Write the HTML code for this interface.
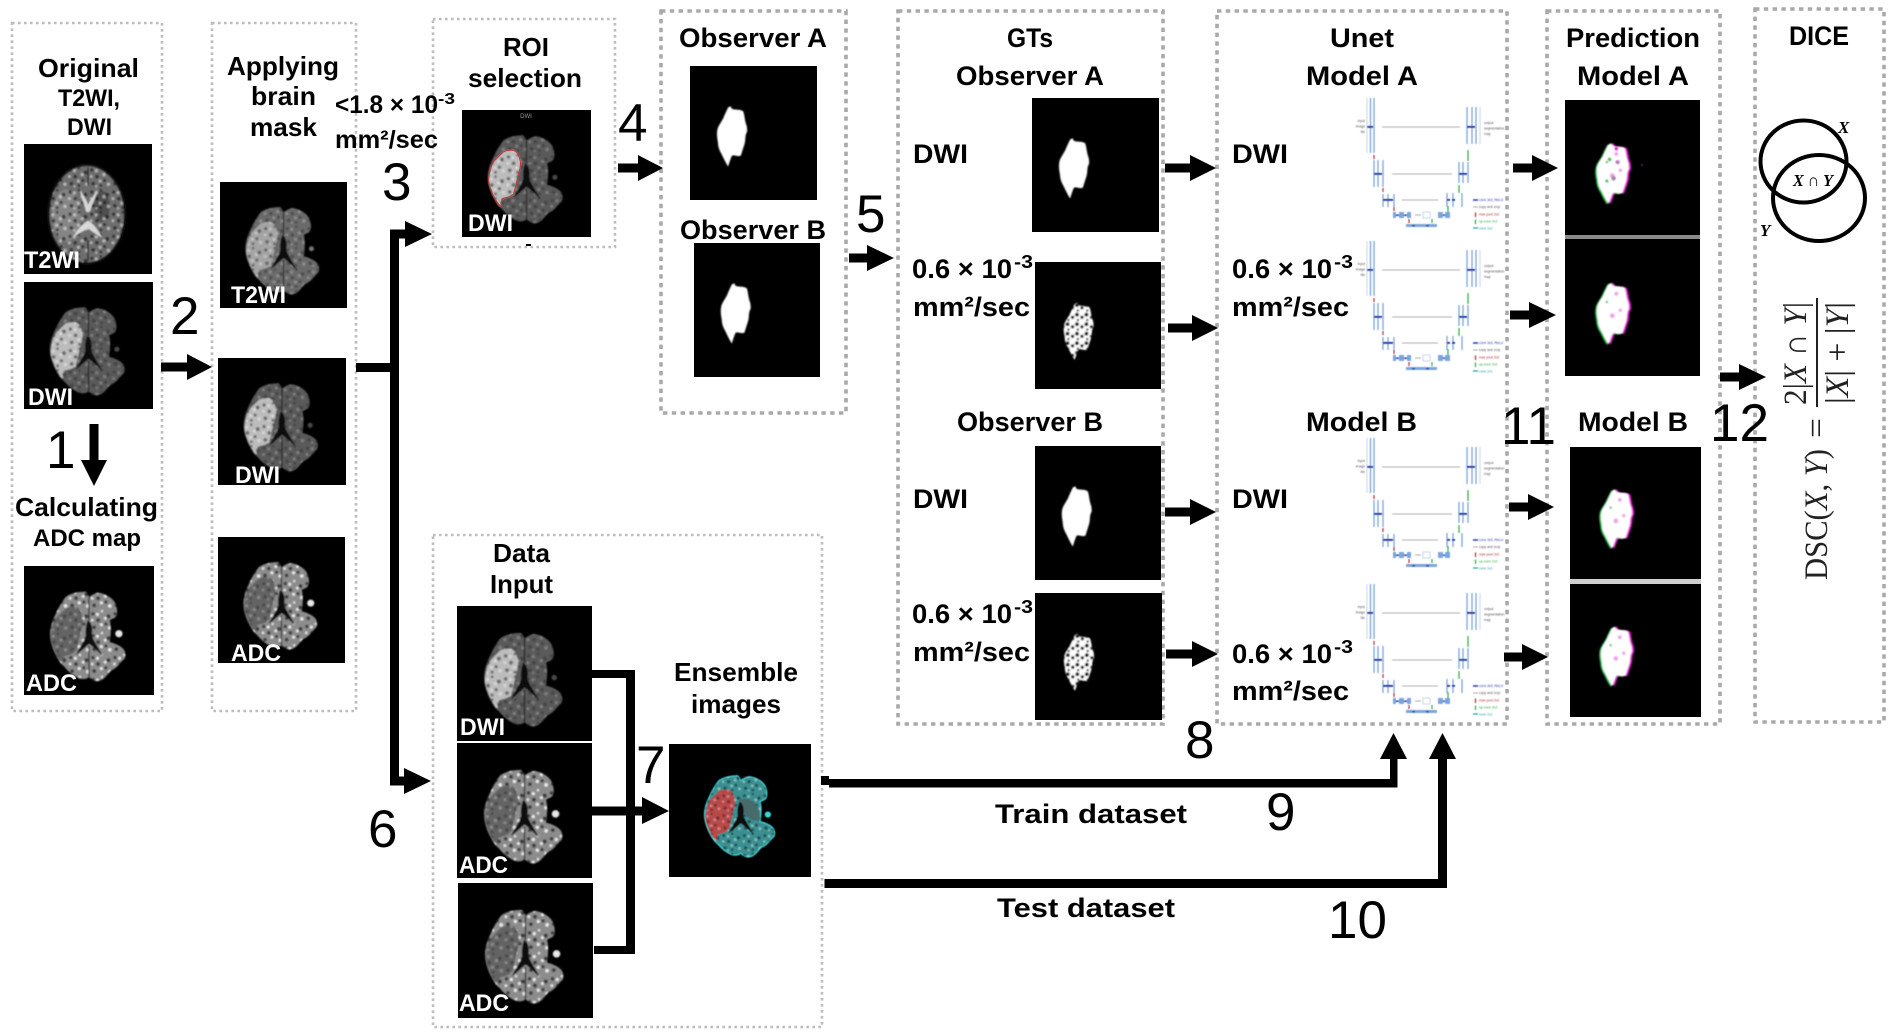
<!DOCTYPE html>
<html lang="en"><head><meta charset="utf-8"><title>Ensemble segmentation workflow</title>
<style>
html,body{margin:0;padding:0;background:#fff}
svg{display:block}
.s{font-family:"Liberation Sans",sans-serif;font-weight:bold;fill:#000}
.w{font-family:"Liberation Sans",sans-serif;font-weight:bold;fill:#fff;font-size:24px}
.n{font-family:"Liberation Sans",sans-serif;font-size:53px;fill:#000}
.c{font-family:"Liberation Sans",sans-serif;font-weight:bold;font-size:27px;fill:#000}
.f{font-family:"Liberation Serif",serif;font-size:33px;fill:#222}
.v{font-family:"Liberation Serif",serif;font-style:italic;font-weight:bold;font-size:17px;fill:#000}
.d1{fill:none;stroke:#bdbdbd;stroke-width:2.6;stroke-dasharray:2.6 3.4}
.d2{fill:none;stroke:#a9a9a9;stroke-width:3.6;stroke-dasharray:4.4 4.4}
</style></head>
<body>
<svg width="1889" height="1034" viewBox="0 0 1889 1034" xmlns="http://www.w3.org/2000/svg">
<defs>
<pattern id="spots" width="17" height="17" patternUnits="userSpaceOnUse">
<g fill="#000" fill-opacity=".55"><circle cx="2" cy="3" r="1.300"/><circle cx="9" cy="1.500" r="1"/><circle cx="14" cy="5" r="1.500"/><circle cx="6" cy="8" r="1.400"/><circle cx="12" cy="11" r="1.200"/><circle cx="3" cy="13.500" r="1.400"/><circle cx="9" cy="15" r="1.100"/></g>
<g fill="#fff" fill-opacity=".5"><circle cx="5.500" cy="3.500" r="1.200"/><circle cx="11.500" cy="6.500" r="1.300"/><circle cx="1.500" cy="8" r="1.100"/><circle cx="8.500" cy="11.500" r="1.200"/><circle cx="15" cy="14" r="1.300"/><circle cx="5.500" cy="15.500" r=".9"/></g>
</pattern>
<pattern id="spotsB" width="17" height="17" patternUnits="userSpaceOnUse">
<g fill="#000" fill-opacity=".6"><circle cx="2" cy="3" r="1.300"/><circle cx="14" cy="5" r="1.500"/><circle cx="6" cy="8" r="1.400"/><circle cx="12" cy="11" r="1.200"/><circle cx="3" cy="13.500" r="1.400"/></g>
<g fill="#fff" fill-opacity=".85"><circle cx="5.500" cy="3.500" r="1.200"/><circle cx="11.500" cy="6.500" r="1.100"/><circle cx="1.500" cy="8" r="1"/><circle cx="8.500" cy="11.500" r="1.200"/><circle cx="15" cy="14" r="1.300"/><circle cx="9" cy="1" r=".9"/></g>
</pattern>
<pattern id="holes" width="7.500" height="7.500" patternUnits="userSpaceOnUse">
<circle cx="1.800" cy="2" r="1.500" fill="#000"/><circle cx="5.800" cy="4" r="1.300" fill="#000"/><circle cx="2.500" cy="6.200" r=".9" fill="#000"/>
</pattern>
<filter id="bl" x="-20%" y="-20%" width="140%" height="140%"><feGaussianBlur stdDeviation=".55"/></filter>
<filter id="bu" x="-5%" y="-5%" width="110%" height="110%"><feGaussianBlur stdDeviation=".4"/></filter>
<path id="brain" d="M46 20C48 19 49 22 50 24C53 22 56 20 59 21C64 22 70 26 71 31C72 35 72 38 70 40L66 42C67 46 67 52 66 59C70 60 75 62 77 65C79 69 78 72 76 73C73 77 70 80 67 81C64 84 62 88 58 89C55 90 52 88 50 86C48 88 45 88 42 87C38 85 34 82 31 78C27 75 25 70 23 66C21 61 20 57 20 53C20 47 22 42 24 38C26 33 29 28 32 24C36 21 42 20 46 20Z"/>
<path id="les" d="M32 33C36 31 41 31 43 34C45 38 46 42 45 46C43 52 42 60 40 66C37 69 33 69 31 70L30 76C27 73 24 68 23 64C21 60 20 56 21 52C22 46 23 42 26 39C28 37 30 35 32 33Z"/>
<path id="ven" d="M49 42C51 43 52.500 46 52.500 50C52.500 52 52 53 52.500 55C55 60 58 65 61 70C57 67 54 63 50 60.500C47 63 44 66 40 69C42 64 46 59 47.500 54.500C47 50 47.500 46 49 42Z"/>
<path id="mid" d="M50 24V42M50 62V86" stroke="#151515" stroke-width=".9" fill="none"/>
<path id="blob" d="M30 31L32 30L33 32C36 33 40 32 42 34C43 37 43 40 44 43C45 45 45 47 45 49C43 52 44 55 43 58C42 61 41 64 40 67C37 68 35 66 33 67C32 69 31 72 30 75C28 72 26 68 25 66C23 63 22 60 22 57C21 52 21 49 22 46C24 42 26 40 27 37C28 35 29 33 30 31Z"/>
<g id="dwi"><rect width="100" height="100" fill="#000"/><g filter="url(#bl)"><use href="#brain" fill="#5a5a5a"/><use href="#brain" fill="url(#spots)" opacity=".45"/><circle cx="72" cy="53" r="2" fill="#4a4a4a"/><use href="#les" fill="#bcbcbc"/><use href="#les" fill="url(#spots)" opacity=".8"/><use href="#mid"/><use href="#ven" fill="#080808"/></g></g>
<g id="t2m"><rect width="100" height="100" fill="#000"/><g filter="url(#bl)"><use href="#brain" fill="#6a6a6a"/><use href="#brain" fill="url(#spots)" opacity=".5"/><circle cx="72" cy="53" r="2" fill="#777"/><use href="#les" fill="#a4a4a4"/><use href="#les" fill="url(#spots)" opacity=".7"/><use href="#mid"/><use href="#ven" fill="#080808"/></g></g>
<g id="adc"><rect width="100" height="100" fill="#000"/><g filter="url(#bl)"><use href="#brain" fill="#8c8c8c"/><use href="#brain" fill="url(#spotsB)"/><circle cx="73" cy="52.500" r="2.800" fill="#e8e8e8"/><use href="#les" fill="#646464"/><use href="#les" fill="url(#spots)" opacity=".5"/><use href="#mid"/><use href="#ven" fill="#080808"/></g></g>
<g id="t2o"><rect width="100" height="100" fill="#000"/><g filter="url(#bl)"><ellipse cx="49" cy="54" rx="31" ry="39" fill="#111"/><ellipse cx="49" cy="54" rx="29" ry="37" fill="#6e6e6e"/><ellipse cx="33" cy="55" rx="11" ry="20" fill="#858585"/><ellipse cx="61" cy="48" rx="6" ry="12" fill="#505050"/><ellipse cx="49" cy="54" rx="29" ry="37" fill="url(#spots)"/>
<path d="M44 35C46 40 49 42 50 47C52 42 55 40 57 35C57 41 53 45 52 51C51 53 48 53 48 50C47 45 44 41 44 35ZM50 59C54 61 58 66 61 72C57 70 53 67 50 65C46 67 43 69 39 71C41 66 46 61 50 59Z" fill="#d8d8d8"/><path d="M50 18V32M50 74V90" stroke="#1a1a1a" stroke-width="1"/></g></g>
<g id="roi"><use href="#dwi"/><use href="#les" fill="none" stroke="#c23a3a" stroke-width=".8"/></g>
<g id="ens"><rect width="100" height="100" fill="#000"/><g transform="translate(8 6.400) scale(.85 .88)" filter="url(#bl)"><use href="#brain" fill="#3a8f90" stroke="#3fcdd0" stroke-width="1.100"/><use href="#brain" fill="url(#spots)" opacity=".75"/><path d="M49 40C58 38 66 42 66 58C60 60 56 56 50 50Z" fill="#4a6a6a"/><use href="#les" fill="#b84a4a"/><use href="#les" fill="url(#spots)" opacity=".6"/><use href="#ven" fill="#0a0a0a"/><circle cx="72.500" cy="53" r="2.600" fill="#38d8d8"/></g></g>
<g id="mask"><rect width="100" height="100" fill="#000"/><use href="#blob" fill="#fff" filter="url(#bl)"/></g>
<g id="gts"><rect width="100" height="100" fill="#000"/><g filter="url(#bl)" transform="translate(1.500 2)"><use href="#blob" fill="#fff"/><use href="#blob" fill="url(#holes)"/></g></g>
<g id="pred"><rect width="100" height="100" fill="#000"/><g filter="url(#bl)"><use href="#blob" x="4" y="2" fill="#e020d0"/><use href="#blob" x="1" y="2.500" fill="#22b84c"/><use href="#blob" x="2.300" y="2" fill="#fff"/><circle cx="31" cy="46" r=".9" fill="#22b84c"/><circle cx="38" cy="40" r="1.500" fill="#f0a0e8"/><circle cx="35" cy="56" r="1.800" fill="#f0a0e8"/><circle cx="41" cy="52" r="1.300" fill="#f0a0e8"/></g></g>
<g id="pred1"><use href="#pred"/><g filter="url(#bl)"><circle cx="33" cy="44" r="1.300" fill="#50b868"/><circle cx="39" cy="46" r="1.500" fill="#c070b8"/><circle cx="36" cy="58" r="1.600" fill="#a080a0"/><circle cx="31" cy="60" r="1.100" fill="#50b868"/><circle cx="38" cy="36" r="1.300" fill="#e020d0"/><circle cx="57" cy="48" r=".7" fill="#a01098"/></g></g>
<g id="unet" filter="url(#bu)">
<g fill="none" stroke="#6f9fd8" stroke-width="1.200">
<path d="M40.500-2V53M44-2V53M137 7V44M142 7V44M146 7V44M44 60V87M48 60V87M53 60V87M129 62V83M133 62V83M138 62V83M53 94V107M58 94V107M64 94V107M117 93V107M123 93V107M132 93V107"/></g>
<path d="M37-2V53M150 7V44" stroke="#cfdcec" stroke-width="1.200"/>
<g fill="#7aa5dc"><rect x="63" y="112" width="3" height="6"/><rect x="69" y="112" width="5" height="6"/><rect x="77" y="112" width="4" height="6"/><rect x="108" y="112" width="5" height="6"/><rect x="115" y="112" width="5" height="6"/><rect x="76" y="124" width="31" height="3"/></g>
<rect x="93" y="112" width="7" height="6" fill="#fff" stroke="#9ab9df" stroke-width=".6"/>
<g stroke="#aeaeae" stroke-width="1.100"><path d="M52 27H130M62 74H122M72 100H108M85 115H91"/></g>
<g fill="#1c2f9c"><rect x="37" y="26" width="6" height="1.800"/><rect x="137" y="26" width="8" height="1.800"/><rect x="44" y="73" width="8" height="1.800"/><rect x="129" y="73" width="8" height="1.800"/><rect x="53" y="99" width="10" height="1.800"/><rect x="117" y="99" width="3" height="1.800"/><rect x="122" y="99" width="3" height="1.800"/><rect x="66" y="114.500" width="3" height="1.400"/><rect x="74" y="114.500" width="3" height="1.400"/><rect x="113" y="114.500" width="2" height="1.400"/><rect x="82" y="125" width="3" height="1.400"/><rect x="96" y="125" width="3" height="1.400"/></g>
<g stroke="#2fa83f" stroke-width="1.200"><path d="M138 50V61M129 85V93M118 106V112M102 119V123"/></g>
<g stroke="#b02a2a" stroke-width="1.200"><path d="M44 55V59M53 88V92M64 107V111M79 119V123"/></g>
<g font-family="Liberation Sans,sans-serif" font-size="3.400" fill="#555"><text x="35" y="22" text-anchor="end">input</text><text x="35" y="27.500" text-anchor="end">image</text><text x="35" y="33" text-anchor="end">tile</text><text x="154" y="24">output</text><text x="154" y="29.500">segmentation</text><text x="154" y="35">map</text>
<text x="149" y="101" fill="#2a3aa8">conv 3x3, ReLU</text><text x="149" y="108">copy and crop</text><text x="149" y="115.500" fill="#b02a2a">max pool 2x2</text><text x="149" y="122.500" fill="#2fa83f">up-conv 2x2</text><text x="149" y="129.500" fill="#1f9a9a">conv 1x1</text></g>
<path d="M143 100H148" stroke="#1c2f9c" stroke-width="1.400"/><path d="M143 107H148" stroke="#aaa"/><path d="M145.500 112.500V117" stroke="#b02a2a" stroke-width="1.200"/><path d="M145.500 119.500V124" stroke="#2fa83f" stroke-width="1.200"/><path d="M143 128H148" stroke="#1f9a9a" stroke-width="1.200"/>
</g>
</defs>

<rect width="1889" height="1034" fill="#fff"/>

<!-- dotted panels -->
<rect class="d1" x="12" y="23" width="150" height="688"/>
<rect class="d1" x="212" y="23" width="144" height="688"/>
<rect class="d1" x="433" y="19" width="182" height="228"/>
<rect class="d1" x="433" y="535" width="389" height="492"/>
<rect class="d2" x="661" y="11" width="185" height="402"/>
<rect class="d2" x="898" y="11" width="265" height="713"/>
<rect class="d2" x="1217" y="11" width="290" height="713"/>
<rect class="d2" x="1547" y="11" width="173" height="713"/>
<rect class="d2" x="1755" y="9" width="129" height="713"/>
<rect x="526" y="244" width="5" height="2" fill="#000"/>

<!-- images -->
<use href="#t2o" transform="translate(24 144) scale(1.280 1.300)"/>
<use href="#dwi" transform="translate(24 282) scale(1.290 1.270)"/>
<use href="#adc" transform="translate(24 566) scale(1.300 1.290)"/>
<use href="#t2m" transform="translate(220 182) scale(1.270 1.260)"/>
<use href="#dwi" transform="translate(218 358) scale(1.280 1.270)"/>
<use href="#adc" transform="translate(218 537) scale(1.270 1.260)"/>
<use href="#roi" transform="translate(462 110) scale(1.290 1.270)"/>
<use href="#dwi" transform="translate(457 606) scale(1.350 1.350)"/>
<use href="#adc" transform="translate(457 743) scale(1.350 1.350)"/>
<use href="#adc" transform="translate(458 883) scale(1.350 1.350)"/>
<use href="#ens" transform="translate(669 744) scale(1.420 1.330)"/>
<use href="#mask" transform="translate(690 66) scale(1.270 1.340)"/>
<use href="#mask" transform="translate(694 243) scale(1.260 1.340)"/>
<use href="#mask" transform="translate(1032 98) scale(1.270 1.340)"/>
<use href="#gts" transform="translate(1035 262) scale(1.260 1.270)"/>
<use href="#mask" transform="translate(1035 446) scale(1.260 1.340)"/>
<use href="#gts" transform="translate(1035 593) scale(1.270 1.270)"/>
<rect x="1565" y="235" width="135" height="4" fill="#8a8a8a"/>
<rect x="1570" y="579" width="131" height="5" fill="#cfcfcf"/>
<use href="#pred1" transform="translate(1565 100) scale(1.350 1.350)"/>
<use href="#pred" transform="translate(1565 239) scale(1.350 1.370)"/>
<use href="#pred" transform="translate(1570 447) scale(1.310 1.320)"/>
<use href="#pred" transform="translate(1570 584) scale(1.310 1.330)"/>

<!-- U-nets -->
<use href="#unet" transform="translate(1330 100)"/>
<use href="#unet" transform="translate(1330 243)"/>
<use href="#unet" transform="translate(1330 440)"/>
<use href="#unet" transform="translate(1330 586)"/>

<!-- connectors -->
<g fill="#000">
<path d="M89.500 424H98.500V460H107L94 486L81 460H89.500Z"/>
<path d="M161 362.500H187V354L212 367L187 380V371.500H161Z"/>
<rect x="356" y="363" width="38" height="9"/>
<rect x="390" y="230" width="9" height="555"/>
<path d="M390 229.500H405V221L432 234L405 247V238.500H390Z"/>
<path d="M390 776.500H404V768L431 781L404 794V785.500H390Z"/>
<path d="M618 163.500H638V155L663 168L638 181V172.500H618Z"/>
<path d="M849 253.500H867V245L894 258L867 271V262.500H849Z"/>
<path d="M1165 163.500H1190V155L1216 168L1190 181V172.500H1165Z"/>
<path d="M1168 323.500H1192V315L1218 328L1192 341V332.500H1168Z"/>
<path d="M1165 507.500H1190V499L1216 512L1190 525V516.500H1165Z"/>
<path d="M1166 649.500H1192V641L1218 654L1192 667V658.500H1166Z"/>
<path d="M1513 163.500H1532V155L1558 168L1532 181V172.500H1513Z"/>
<path d="M1510 310.500H1529V302L1556 315L1529 328V319.500H1510Z"/>
<path d="M1509 502.500H1528V494L1554 507L1528 520V511.500H1509Z"/>
<path d="M1504 652.500H1522V644L1548 657L1522 670V661.500H1504Z"/>
<path d="M1720 372.500H1739V364L1766 377L1739 390V381.500H1720Z"/>
<path d="M592 670H635V954H594V946H626V678H592Z"/>
<path d="M592 806.500H642V797L669 811L642 824V815.500H592Z"/>
<rect x="821" y="776" width="8" height="9"/>
<path d="M829 779H1390V759H1380L1393.500 733L1407 759H1397.500V787.500H829Z"/>
<path d="M824.500 879H1438V759H1429L1442.500 733L1456 759H1447V888H824.500Z"/>
</g>

<!-- white image labels -->
<text class="w" x="24" y="268" textLength="56" lengthAdjust="spacingAndGlyphs">T2WI</text>
<text class="w" x="28" y="405" textLength="45" lengthAdjust="spacingAndGlyphs">DWI</text>
<text class="w" x="26" y="691" textLength="51" lengthAdjust="spacingAndGlyphs">ADC</text>
<text class="w" x="231" y="303" textLength="55" lengthAdjust="spacingAndGlyphs">T2WI</text>
<text class="w" x="235" y="483" textLength="45" lengthAdjust="spacingAndGlyphs">DWI</text>
<text class="w" x="231" y="661" textLength="50" lengthAdjust="spacingAndGlyphs">ADC</text>
<text class="w" x="468" y="231" textLength="45" lengthAdjust="spacingAndGlyphs">DWI</text>
<text x="526" y="118" font-family="Liberation Sans,sans-serif" font-size="6" fill="#999" text-anchor="middle">DWI</text>
<text class="w" x="460" y="735" textLength="45" lengthAdjust="spacingAndGlyphs">DWI</text>
<text class="w" x="459" y="873" textLength="49" lengthAdjust="spacingAndGlyphs">ADC</text>
<text class="w" x="459" y="1011" textLength="50" lengthAdjust="spacingAndGlyphs">ADC</text>

<!-- left headings -->
<text class="s" font-size="26" x="38" y="77" textLength="101" lengthAdjust="spacingAndGlyphs">Original</text>
<text class="s" font-size="24" x="58" y="106" textLength="62" lengthAdjust="spacingAndGlyphs">T2WI,</text>
<text class="s" font-size="24" x="67" y="135" textLength="45" lengthAdjust="spacingAndGlyphs">DWI</text>
<text class="s" font-size="26" x="227" y="75" textLength="112" lengthAdjust="spacingAndGlyphs">Applying</text>
<text class="s" font-size="26" x="251" y="105" textLength="65" lengthAdjust="spacingAndGlyphs">brain</text>
<text class="s" font-size="26" x="250" y="136" textLength="67" lengthAdjust="spacingAndGlyphs">mask</text>
<text class="s" font-size="26" x="15" y="516" textLength="143" lengthAdjust="spacingAndGlyphs">Calculating</text>
<text class="s" font-size="24" x="33" y="546" textLength="108" lengthAdjust="spacingAndGlyphs">ADC map</text>
<text class="s" font-size="26" x="503" y="56" textLength="46" lengthAdjust="spacingAndGlyphs">ROI</text>
<text class="s" font-size="26" x="468" y="87" textLength="114" lengthAdjust="spacingAndGlyphs">selection</text>
<text class="s" font-size="26" x="493" y="562" textLength="57" lengthAdjust="spacingAndGlyphs">Data</text>
<text class="s" font-size="26" x="490" y="593" textLength="63" lengthAdjust="spacingAndGlyphs">Input</text>
<text class="s" font-size="26" x="674" y="681" textLength="124" lengthAdjust="spacingAndGlyphs">Ensemble</text>
<text class="s" font-size="26" x="691" y="713" textLength="90" lengthAdjust="spacingAndGlyphs">images</text>

<!-- threshold 1.8 -->
<text class="c" style="font-size:25px" x="335" y="113" textLength="103" lengthAdjust="spacingAndGlyphs">&lt;1.8 × 10</text>
<text class="c" style="font-size:16px" x="438" y="104" textLength="17" lengthAdjust="spacingAndGlyphs">-3</text>
<text class="c" style="font-size:25px" x="335" y="148" textLength="103" lengthAdjust="spacingAndGlyphs">mm²/sec</text>

<!-- calibri style headings -->
<text class="c" x="679" y="47" textLength="148" lengthAdjust="spacingAndGlyphs">Observer A</text>
<text class="c" x="680" y="239" textLength="146" lengthAdjust="spacingAndGlyphs">Observer B</text>
<text class="c" x="1007" y="47" textLength="46" lengthAdjust="spacingAndGlyphs">GTs</text>
<text class="c" x="956" y="85" textLength="148" lengthAdjust="spacingAndGlyphs">Observer A</text>
<text class="c" x="957" y="431" textLength="146" lengthAdjust="spacingAndGlyphs">Observer B</text>
<text class="c" x="913" y="163" textLength="55" lengthAdjust="spacingAndGlyphs">DWI</text>
<text class="c" x="913" y="508" textLength="55" lengthAdjust="spacingAndGlyphs">DWI</text>
<text class="c" x="912" y="278" textLength="100" lengthAdjust="spacingAndGlyphs">0.6 × 10</text>
<text class="c" style="font-size:18px" x="1014" y="268" textLength="19" lengthAdjust="spacingAndGlyphs">-3</text>
<text class="c" x="913" y="316" textLength="117" lengthAdjust="spacingAndGlyphs">mm²/sec</text>
<text class="c" x="912" y="623" textLength="100" lengthAdjust="spacingAndGlyphs">0.6 × 10</text>
<text class="c" style="font-size:18px" x="1014" y="613" textLength="19" lengthAdjust="spacingAndGlyphs">-3</text>
<text class="c" x="913" y="661" textLength="117" lengthAdjust="spacingAndGlyphs">mm²/sec</text>

<text class="c" x="1330" y="47" textLength="64" lengthAdjust="spacingAndGlyphs">Unet</text>
<text class="c" x="1306" y="85" textLength="112" lengthAdjust="spacingAndGlyphs">Model A</text>
<text class="c" x="1306" y="431" textLength="111" lengthAdjust="spacingAndGlyphs">Model B</text>
<text class="c" x="1232" y="163" textLength="56" lengthAdjust="spacingAndGlyphs">DWI</text>
<text class="c" x="1232" y="508" textLength="56" lengthAdjust="spacingAndGlyphs">DWI</text>
<text class="c" x="1232" y="278" textLength="100" lengthAdjust="spacingAndGlyphs">0.6 × 10</text>
<text class="c" style="font-size:18px" x="1334" y="268" textLength="19" lengthAdjust="spacingAndGlyphs">-3</text>
<text class="c" x="1232" y="316" textLength="117" lengthAdjust="spacingAndGlyphs">mm²/sec</text>
<text class="c" x="1232" y="663" textLength="100" lengthAdjust="spacingAndGlyphs">0.6 × 10</text>
<text class="c" style="font-size:18px" x="1334" y="653" textLength="19" lengthAdjust="spacingAndGlyphs">-3</text>
<text class="c" x="1232" y="700" textLength="117" lengthAdjust="spacingAndGlyphs">mm²/sec</text>

<text class="c" x="1566" y="47" textLength="134" lengthAdjust="spacingAndGlyphs">Prediction</text>
<text class="c" x="1577" y="85" textLength="112" lengthAdjust="spacingAndGlyphs">Model A</text>
<text class="c" x="1578" y="431" textLength="110" lengthAdjust="spacingAndGlyphs">Model B</text>
<text class="c" x="1789" y="45" textLength="60" lengthAdjust="spacingAndGlyphs">DICE</text>
<text class="c" x="995" y="823" textLength="192" lengthAdjust="spacingAndGlyphs">Train dataset</text>
<text class="c" x="997" y="917" textLength="178" lengthAdjust="spacingAndGlyphs">Test dataset</text>

<!-- numbers -->
<text class="n" x="46" y="468">1</text>
<text class="n" x="170" y="334">2</text>
<text class="n" x="382" y="200">3</text>
<text class="n" x="618" y="141">4</text>
<text class="n" x="856" y="232">5</text>
<text class="n" x="368" y="847">6</text>
<text class="n" x="636" y="783">7</text>
<text class="n" x="1185" y="758">8</text>
<text class="n" x="1266" y="830">9</text>
<text class="n" x="1328" y="938">10</text>
<text class="n" x="1501" y="444">11</text>
<text class="n" x="1710" y="441">12</text>

<!-- DICE -->
<ellipse cx="1803.500" cy="161.500" rx="43" ry="41" fill="none" stroke="#000" stroke-width="4"/>
<ellipse cx="1819" cy="198" rx="46" ry="43" fill="none" stroke="#000" stroke-width="4"/>
<text class="v" x="1838" y="133">X</text>
<text class="v" x="1760" y="236">Y</text>
<text class="v" x="1793" y="186" textLength="40" lengthAdjust="spacingAndGlyphs">X ∩ Y</text>
<text class="f" transform="translate(1827 580) rotate(-90)" textLength="131" lengthAdjust="spacingAndGlyphs">DSC(<tspan font-style="italic">X</tspan>, <tspan font-style="italic">Y</tspan>)</text>
<text class="f" transform="translate(1827 438) rotate(-90)" textLength="20" lengthAdjust="spacingAndGlyphs">=</text>
<text class="f" transform="translate(1806 405) rotate(-90)" textLength="103" lengthAdjust="spacingAndGlyphs">2|<tspan font-style="italic">X</tspan> ∩ <tspan font-style="italic">Y</tspan>|</text>
<rect x="1816" y="298" width="2" height="109" fill="#222"/>
<text class="f" transform="translate(1848 404) rotate(-90)" textLength="102" lengthAdjust="spacingAndGlyphs">|<tspan font-style="italic">X</tspan>| + |<tspan font-style="italic">Y</tspan>|</text>
</svg>
</body></html>
